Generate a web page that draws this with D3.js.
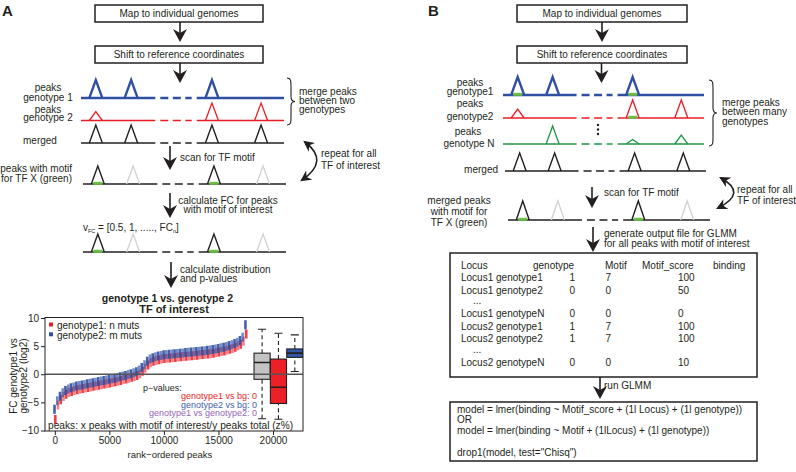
<!DOCTYPE html>
<html><head><meta charset="utf-8">
<script src="https://cdn.jsdelivr.net/npm/d3@7"></script>
<style>
body{margin:0;background:#fff}
svg text{font-family:"Liberation Sans",Arial,Helvetica,sans-serif;}
</style>
</head><body>
<svg id="c" width="796" height="472"></svg>
<script>
// ---------------- DATA ----------------
// rank-ordered fold changes (log2) sampled every 250 peaks
const rankPositions = d3.range(0, 17501, 250);
const genotype1FC = [ // red
  -8.0,-5.4,-4.5,-3.9,-3.5,-3.2,-3.0,-2.85,-2.7,-2.6,
  -2.5,-2.4,-2.3,-2.2,-2.1,-2.0,-1.9,-1.8,-1.7,-1.6,
  -1.5,-1.4,-1.3,-1.2,-1.05,-0.9,-0.8,-0.65,-0.5,-0.35,
  -0.15,0.15,0.6,1.1,1.7,2.1,2.35,2.5,2.65,2.75,
  2.85,2.9,2.95,3.0,3.05,3.1,3.15,3.2,3.25,3.3,
  3.35,3.4,3.45,3.5,3.55,3.6,3.65,3.7,3.8,3.9,
  4.0,4.1,4.2,4.35,4.5,4.65,4.85,5.1,5.4,5.9,
  7.2];
const genotype2FC = [ // blue
  -6.2,-4.7,-3.9,-3.3,-2.9,-2.6,-2.4,-2.25,-2.1,-2.0,
  -1.9,-1.8,-1.7,-1.6,-1.5,-1.4,-1.3,-1.2,-1.1,-1.0,
  -0.9,-0.8,-0.7,-0.6,-0.45,-0.3,-0.2,-0.05,0.1,0.25,
  0.45,0.75,1.2,1.7,2.3,2.7,2.95,3.1,3.25,3.35,
  3.45,3.5,3.55,3.6,3.65,3.7,3.75,3.8,3.85,3.9,
  3.95,4.0,4.05,4.1,4.15,4.2,4.25,4.3,4.4,4.5,
  4.6,4.7,4.8,4.95,5.1,5.25,5.45,5.7,6.0,6.6,
  8.8];
// boxplots: [lower whisker, q1, median, q3, upper whisker]
const boxNames = ["bg","genotype1","genotype2"];
const boxRankPos = [19000, 20500, 22000];
const bgBox = [-7.9, -0.9, 2.1, 3.75, 8.0];
const g1Box = [-8.0, -5.2, -2.3, 2.7, 7.3];
const g2Box = [0.5, 3.0, 3.75, 4.5, 7.0];
const yTicks = [-10, -5, 0, 5, 10];
const xTicks = [0, 5000, 10000, 15000, 20000];
const legendLabels = ["genotype1: n muts", "genotype2: m muts"];
const pvalLabels = ["genotype1 vs bg: 0", "genotype2 vs bg: 0", "genotype1 vs genotype2: 0"];

// schematic peaks: relative slot positions (0-100 along a track) and peak heights
const peakSlots = [7.3, 24.7, 64.5, 88.7];
const gapRange = [36.6, 57];
const g1PeaksA = [18, 18, 18, 0];
const g2PeaksA = [9, 0, 17.5, 17.5];
const mergedPeaks = [18, 18, 18, 18];
const motifFlags = [1, 0, 1, 0];
const g1PeaksB = [18, 18, 18, 0];
const g1MotifB = [1, 0, 1, 0];
const g2PeaksB = [9, 0, 18, 18];
const g2MotifB = [0, 0, 1, 0];
const gNPeaksB = [0, 18, 4.5, 9];

const tableHeader = ["Locus", "genotype", "Motif", "Motif_score", "binding"];
const tableRows = [
  ["Locus1 genotype1", "1", "7", "100"],
  ["Locus1 genotype2", "0", "0", "50"],
  ["...", "", "", ""],
  ["Locus1 genotypeN", "0", "0", "0"],
  ["Locus2 genotype1", "1", "7", "100"],
  ["Locus2 genotype2", "1", "7", "100"],
  ["...", "", "", ""],
  ["Locus2 genotypeN", "0", "0", "10"]
];
const modelLines = [
  "model = lmer(binding ~ Motif_score + (1l Locus) + (1l genotype))",
  "OR",
  "model = lmer(binding ~ Motif + (1lLocus) + (1l genotype))",
  "",
  "drop1(model, test=\"Chisq\")"
];

// ---------------- STYLE ----------------
const INK = "#231f20", BLUE = "#2f4fa3", RED = "#ec1c24", GREEN = "#1f9747",
      MOTIF = "#6cbd45", LGRAY = "#d3d3d3";
const svg = d3.select("#c");

function T(x, y, s, o = {}) {
  return svg.append("text").attr("x", x).attr("y", y)
    .attr("text-anchor", o.anchor || "start")
    .attr("font-size", o.size || 10)
    .attr("font-weight", o.weight || "normal")
    .attr("fill", o.fill || INK).text(s);
}
function rectBox(x0, y0, x1, y1, w = 1.5) {
  svg.append("rect").attr("x", x0).attr("y", y0).attr("width", x1 - x0).attr("height", y1 - y0)
    .attr("fill", "none").attr("stroke", INK).attr("stroke-width", w);
}
function arrow(x, y0, tip) {
  svg.append("line").attr("x1", x).attr("x2", x).attr("y1", y0).attr("y2", tip - 8)
    .attr("stroke", INK).attr("stroke-width", 1.6);
  svg.append("path").attr("d", `M${x},${tip} L${x - 7},${tip - 13} L${x},${tip - 9} L${x + 7},${tip - 13} Z`)
    .attr("fill", INK);
}
function track(x0, x1, y, color, lw, heights, motif, grayIdx) {
  const xs = d3.scaleLinear().domain([0, 100]).range([x0, x1]);
  const g = svg.append("g");
  g.append("line").attr("x1", x0).attr("x2", xs(gapRange[0])).attr("y1", y).attr("y2", y)
    .attr("stroke", color).attr("stroke-width", lw);
  g.append("line").attr("x1", xs(gapRange[0]) + 5).attr("x2", xs(gapRange[1]) - 5).attr("y1", y).attr("y2", y)
    .attr("stroke", color).attr("stroke-width", lw).attr("stroke-dasharray", "8,4.5");
  g.append("line").attr("x1", xs(gapRange[1])).attr("x2", x1).attr("y1", y).attr("y2", y)
    .attr("stroke", color).attr("stroke-width", lw);
  peakSlots.forEach((p, i) => {
    const h = heights[i];
    if (!h) return;
    const cx = xs(p);
    const col = grayIdx && grayIdx[i] ? LGRAY : color;
    g.append("path").attr("d", `M${cx - 6.5},${y} L${cx},${y - h} L${cx + 6.5},${y}`)
      .attr("fill", "none").attr("stroke", col).attr("stroke-width", lw).attr("stroke-linejoin", "miter");
    if (motif && motif[i]) {
      g.append("rect").attr("x", cx - 4.5).attr("y", y - 2.2).attr("width", 9).attr("height", 3)
        .attr("fill", MOTIF);
    }
  });
}
function brace(x, y0, y1) {
  const ym = (y0 + y1) / 2;
  svg.append("path").attr("d",
    `M${x},${y0} C${x + 4},${y0} ${x + 4},${y0 + 3} ${x + 4},${y0 + 8} L${x + 4},${ym - 5} C${x + 4},${ym - 1} ${x + 6},${ym} ${x + 8},${ym} C${x + 6},${ym} ${x + 4},${ym + 1} ${x + 4},${ym + 5} L${x + 4},${y1 - 8} C${x + 4},${y1 - 3} ${x + 4},${y1} ${x},${y1}`)
    .attr("fill", "none").attr("stroke", INK).attr("stroke-width", 1.1);
}
svg.append("defs").append("marker").attr("id", "ah")
  .attr("viewBox", "0 0 10 10").attr("refX", 8).attr("refY", 5)
  .attr("markerWidth", 11).attr("markerHeight", 11).attr("markerUnits", "userSpaceOnUse")
  .attr("orient", "auto-start-reverse")
  .append("path").attr("d", "M0,0 L10,5 L0,10 L3,5 Z").attr("fill", INK);
function curved(d) {
  svg.append("path").attr("d", d).attr("fill", "none").attr("stroke", INK).attr("stroke-width", 1.6)
    .attr("marker-start", "url(#ah)").attr("marker-end", "url(#ah)");
}

// ---------------- PANEL A ----------------
T(2, 16, "A", { size: 15, weight: "bold" });
rectBox(95, 5, 263, 22);
T(179, 16.5, "Map to individual genomes", { anchor: "middle" });
arrow(180, 22, 42);
rectBox(95, 46, 263, 63);
T(179, 57.5, "Shift to reference coordinates", { anchor: "middle" });
arrow(180, 63, 83);

track(81, 284, 98, BLUE, 2.3, g1PeaksA);
T(48, 90.5, "peaks", { anchor: "middle" }); T(48, 101, "genotype 1", { anchor: "middle" });
track(81, 284, 120.5, RED, 1.3, g2PeaksA);
T(48, 112.5, "peaks", { anchor: "middle" }); T(48, 121, "genotype 2", { anchor: "middle" });
brace(287, 78, 125);
T(299, 94.5, "merge peaks"); T(299, 103.5, "between two"); T(299, 112.5, "genotypes");
track(81, 284, 143, INK, 1.4, mergedPeaks);
T(23, 143.5, "merged");

arrow(170, 146, 170);
T(180, 160.5, "scan for TF motif");
curved("M305,142 Q330,161 302,180");
T(321, 157, "repeat for all"); T(321, 168.5, "TF of interest");
track(83, 286, 184, INK, 1.4, mergedPeaks, motifFlags, [0, 1, 0, 1]);
T(72, 172, "peaks with motif", { anchor: "end" }); T(72, 181.5, "for TF X (green)", { anchor: "end" });

arrow(170, 193, 218);
T(228, 203.5, "calculate FC for peaks", { anchor: "middle" });
T(228, 212.5, "with motif of interest", { anchor: "middle" });
{
  const t = T(83, 230.5, "v");
  t.append("tspan").attr("font-size", 5.5).attr("dy", 2).text("FC");
  t.append("tspan").attr("dy", -2).text(" = [0.5, 1, ....., FC");
  t.append("tspan").attr("font-size", 5.5).attr("dy", 2).text("n");
  t.append("tspan").attr("dy", -2).text("]");
}
track(83, 286, 252, INK, 1.4, mergedPeaks, motifFlags, [0, 1, 0, 1]);

arrow(171, 262, 288);
T(180, 273, "calculate distribution"); T(180, 282, "and p-values");

// ---- plot ----
T(167.5, 302, "genotype 1 vs. genotype 2", { anchor: "middle", weight: "bold", size: 10.5 });
T(174, 312.5, "TF of interest", { anchor: "middle", weight: "bold", size: 11 });

const xS = d3.scaleLinear().domain([-900, 22750]).range([45, 303]);
const yS = d3.scaleLinear().domain([-10, 10]).range([430.5, 318]);
const plot = svg.append("g");
svg.select("defs").append("clipPath").attr("id", "pc").append("rect")
  .attr("x", 45).attr("y", 317.5).attr("width", 258).attr("height", 113.5);
const dataG = plot.append("g").attr("clip-path", "url(#pc)");

// rank-ordered ticks
dataG.selectAll("line.r").data(rankPositions).join("line").attr("class", "r")
  .attr("x1", (d) => xS(d) + 0.5).attr("x2", (d) => xS(d) + 0.5)
  .attr("y1", (d, i) => yS(genotype1FC[i] - 0.85)).attr("y2", (d, i) => yS(genotype1FC[i] + 0.75))
  .attr("stroke", RED).attr("stroke-opacity", (d, i) => i % 2 ? 0.55 : 0.85).attr("stroke-width", 2.6);
dataG.selectAll("line.b").data(rankPositions).join("line").attr("class", "b")
  .attr("x1", (d) => xS(d) - 0.3).attr("x2", (d) => xS(d) - 0.3)
  .attr("y1", (d, i) => yS(genotype2FC[i] - 0.8)).attr("y2", (d, i) => yS(genotype2FC[i] + 0.8))
  .attr("stroke", BLUE).attr("stroke-opacity", (d, i) => i % 2 ? 0.65 : 0.9).attr("stroke-width", 2.6);

// zero line
plot.append("line").attr("x1", 45).attr("x2", 303).attr("y1", yS(0)).attr("y2", yS(0))
  .attr("stroke", "#555").attr("stroke-width", 1.3);

// boxplots
const boxStats = [bgBox, g1Box, g2Box];
const boxFill = ["#c3c3c3", "#ec2027", "#3456a8"];
const bw = 1480;
boxStats.forEach((s, i) => {
  const cx = xS(boxRankPos[i]);
  const x0 = xS(boxRankPos[i] - bw / 2), x1 = xS(boxRankPos[i] + bw / 2);
  const capW = (x1 - x0) / 4;
  dataG.append("line").attr("x1", cx).attr("x2", cx).attr("y1", yS(s[0])).attr("y2", yS(s[1]))
    .attr("stroke", INK).attr("stroke-width", 1.1).attr("stroke-dasharray", "4,3");
  dataG.append("line").attr("x1", cx).attr("x2", cx).attr("y1", yS(s[3])).attr("y2", yS(s[4]))
    .attr("stroke", INK).attr("stroke-width", 1.1).attr("stroke-dasharray", "4,3");
  [s[0], s[4]].forEach(v => dataG.append("line").attr("x1", cx - capW).attr("x2", cx + capW)
    .attr("y1", yS(v)).attr("y2", yS(v)).attr("stroke", INK).attr("stroke-width", 1.1));
  dataG.append("rect").attr("x", x0).attr("y", yS(s[3])).attr("width", x1 - x0)
    .attr("height", yS(s[1]) - yS(s[3])).attr("fill", boxFill[i]).attr("stroke", INK).attr("stroke-width", 1.1);
  dataG.append("line").attr("x1", x0).attr("x2", x1).attr("y1", yS(s[2])).attr("y2", yS(s[2]))
    .attr("stroke", INK).attr("stroke-width", 1.6);
});

// frame
plot.append("rect").attr("x", 45).attr("y", 317.5).attr("width", 258).attr("height", 113.5)
  .attr("fill", "none").attr("stroke", INK).attr("stroke-width", 1);

// axes
const gy = plot.append("g").attr("transform", "translate(45,0)")
  .call(d3.axisLeft(yS).tickValues(yTicks).tickSize(4).tickPadding(2));
gy.select(".domain").remove();
const gx = plot.append("g").attr("transform", "translate(0,431)")
  .call(d3.axisBottom(xS).tickValues(xTicks).tickFormat(d3.format("d")).tickSize(4).tickPadding(2));
gx.select(".domain").remove();
[gy, gx].forEach(g => {
  g.attr("color", INK).attr("font-family", null);
  g.selectAll("text").attr("font-size", 10).attr("fill", INK);
});

// legend
[RED, BLUE].forEach((c, i) => {
  plot.append("rect").attr("x", 49).attr("y", 322.5 + i * 9.8).attr("width", 4).attr("height", 4).attr("fill", c);
  T(57, 328.8 + i * 9.8, legendLabels[i]);
});
// p-values
T(143, 391, "p\u2212values:", { size: 9 });
const pcol = [RED, "#4361ad", "#9465b8"];
pvalLabels.forEach((s, i) => T(257, 399 + i * 8.5, s, { anchor: "end", size: 9, fill: pcol[i] }));
T(48, 428.5, "peaks: x peaks with motif of interest/y peaks total (z%)", { size: 10.2 });

// axis titles
T(170, 458, "rank\u2212ordered peaks", { anchor: "middle", size: 9.5 });
svg.append("text").attr("transform", "translate(16.5,376) rotate(-90)").attr("text-anchor", "middle")
  .attr("font-size", 10).attr("fill", INK).text("FC genotype1 vs");
svg.append("text").attr("transform", "translate(26.5,376) rotate(-90)").attr("text-anchor", "middle")
  .attr("font-size", 10).attr("fill", INK).text("genotype2 (log2)");

// ---------------- PANEL B ----------------
T(428, 16, "B", { size: 15, weight: "bold" });
rectBox(517, 5, 687, 22);
T(602, 16.5, "Map to individual genomes", { anchor: "middle" });
arrow(602, 22, 42);
rectBox(517, 46, 687, 63);
T(602, 57.5, "Shift to reference coordinates", { anchor: "middle" });
arrow(601.5, 63, 83);

track(503, 704, 95, BLUE, 2.3, g1PeaksB, g1MotifB);
T(470, 85.5, "peaks", { anchor: "middle" }); T(470, 95, "genotype1", { anchor: "middle" });
track(503, 704, 118, RED, 1.3, g2PeaksB, g2MotifB);
T(470, 107, "peaks", { anchor: "middle" }); T(470, 119.5, "genotype2", { anchor: "middle" });
[125, 129.5, 134].forEach(y => svg.append("circle").attr("cx", 598).attr("cy", y).attr("r", 1.2).attr("fill", INK));
track(503, 704, 144, GREEN, 1.3, gNPeaksB);
T(468, 134.5, "peaks", { anchor: "middle" }); T(469, 146.5, "genotype N", { anchor: "middle" });
brace(709, 80, 146);
T(722, 105.5, "merge peaks"); T(722, 115, "between many"); T(722, 124.5, "genotypes");
track(505, 706, 171, INK, 1.4, mergedPeaks);
T(498, 172.5, "merged", { anchor: "end" });

arrow(592, 187, 208);
T(604, 195.5, "scan for TF motif");
curved("M721,178 Q748,193 718,208");
T(737, 192.5, "repeat for all"); T(737, 203.5, "TF of interest");
track(508, 710, 220, INK, 1.4, [19, 19, 19, 19], motifFlags, [0, 1, 0, 1]);
T(459, 203.5, "merged peaks", { anchor: "middle" });
T(459, 214.5, "with motif for", { anchor: "middle" });
T(459, 225.5, "TF X (green)", { anchor: "middle" });

arrow(593, 227, 252);
T(604, 237, "generate output file for GLMM");
T(604, 246.5, "for all peaks with motif of interest");

rectBox(450, 253, 757, 377);
const hx = [461, 533, 605, 642, 713];
tableHeader.forEach((h, i) => T(hx[i], 268.8, h));
const cx = [461, 569.5, 605.5, 678];
let ry = 268.8;
tableRows.forEach(r => {
  const dots = r[0] === "...";
  ry += dots ? 10.6 : 12.4;
  r.forEach((c, j) => { if (c) T(dots ? 473 : cx[j], ry, c); });
  if (dots) ry += 0.6;
});

arrow(600, 377, 399);
T(604, 388.5, "run GLMM");
rectBox(450, 402, 757, 461);
modelLines.forEach((l, i) => { if (l) T(457, 412.5 + i * 10.9, l); });
</script>
</body></html>
